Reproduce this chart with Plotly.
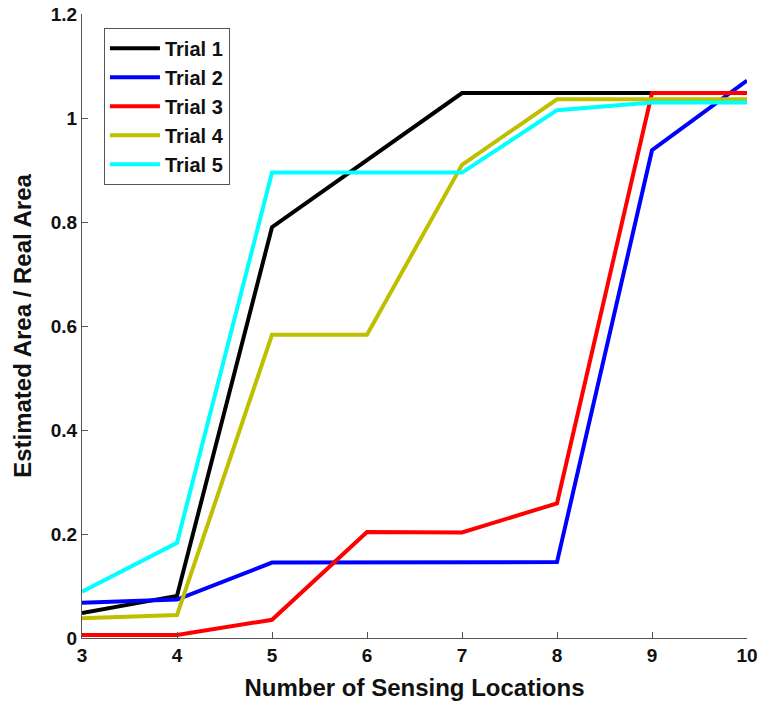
import plotly.graph_objects as go

# Number of sensing locations (x axis)
locations = [3, 4, 5, 6, 7, 8, 9, 10]

# Estimated area / real area for each trial
trial_1 = [0.048, 0.081, 0.790, 0.920, 1.048, 1.048, 1.048, 1.048]
trial_2 = [0.068, 0.074, 0.145, 0.145, 0.145, 0.146, 0.938, 1.072]
trial_3 = [0.006, 0.006, 0.035, 0.204, 0.203, 0.259, 1.048, 1.048]
trial_4 = [0.038, 0.044, 0.583, 0.583, 0.910, 1.036, 1.036, 1.036]
trial_5 = [0.089, 0.183, 0.895, 0.895, 0.895, 1.015, 1.030, 1.030]

y_ticks = [0, 0.2, 0.4, 0.6, 0.8, 1, 1.2]
y_tick_text = ["0", "0.2", "0.4", "0.6", "0.8", "1", "1.2"]

series = [
    ("Trial 1", trial_1, "#000000"),
    ("Trial 2", trial_2, "#0000FF"),
    ("Trial 3", trial_3, "#FF0000"),
    ("Trial 4", trial_4, "#BFBF00"),
    ("Trial 5", trial_5, "#00FFFF"),
]

FONT = "Arial, Liberation Sans, sans-serif"
TEXT = "#111111"

fig = go.Figure()
for name, values, color in series:
    fig.add_trace(go.Scatter(
        x=locations, y=values, name=name, mode="lines",
        line=dict(color=color, width=4),
    ))

axis_common = dict(
    showgrid=False, zeroline=False, showline=True, automargin=False,
    linecolor="#555555", linewidth=1,
    ticks="inside", ticklen=6, tickcolor="#555555",
    tickfont=dict(family=FONT, size=19, color=TEXT, weight="bold"),
)

fig.update_layout(
    width=761, height=704,
    margin=dict(l=82, r=14, t=14, b=66, autoexpand=False),
    paper_bgcolor="white", plot_bgcolor="white",
    xaxis=dict(
        range=[3, 10], tickvals=locations,
        title=dict(text="Number of Sensing Locations", standoff=14,
                   font=dict(family=FONT, size=24, color=TEXT, weight="bold")),
        **axis_common,
    ),
    yaxis=dict(
        range=[0, 1.2], tickvals=y_ticks, ticktext=y_tick_text,
        title=dict(text="Estimated Area / Real Area", standoff=12,
                   font=dict(family=FONT, size=24, color=TEXT, weight="bold")),
        **axis_common,
    ),
    legend=dict(
        x=0.033, y=0.978, xanchor="left", yanchor="top",
        bgcolor="white", bordercolor="#555555", borderwidth=1,
        font=dict(family=FONT, size=20, color=TEXT, weight="bold"),
        itemwidth=50, tracegroupgap=0,
    ),
    showlegend=True,
)

fig.write_html("out.html")
